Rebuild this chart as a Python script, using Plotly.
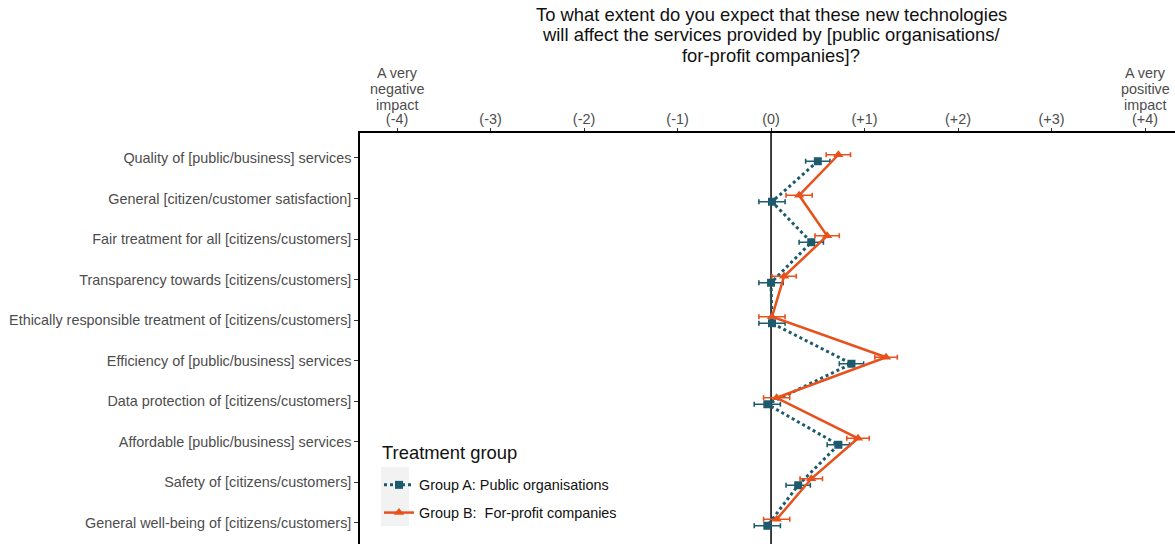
import plotly.graph_objects as go

categories = [
    "Quality of [public/business] services",
    "General [citizen/customer satisfaction]",
    "Fair treatment for all [citizens/customers]",
    "Transparency towards [citizens/customers]",
    "Ethically responsible treatment of [citizens/customers]",
    "Efficiency of [public/business] services",
    "Data protection of [citizens/customers]",
    "Affordable [public/business] services",
    "Safety of [citizens/customers]",
    "General well-being of [citizens/customers]",
]
group_a = [0.50, 0.01, 0.43, 0.00, 0.01, 0.86, -0.04, 0.72, 0.29, -0.04]
group_a_err = [0.13, 0.14, 0.13, 0.13, 0.14, 0.13, 0.14, 0.12, 0.13, 0.14]
group_b = [0.72, 0.30, 0.60, 0.14, 0.01, 1.23, 0.06, 0.93, 0.43, 0.06]
group_b_err = [0.13, 0.14, 0.13, 0.13, 0.14, 0.12, 0.14, 0.12, 0.12, 0.14]

tick_vals = [-4, -3, -2, -1, 0, 1, 2, 3, 4]
tick_text = ["(-4)", "(-3)", "(-2)", "(-1)", "(0)", "(+1)", "(+2)", "(+3)", "(+4)"]
end_labels_neg = ["A very", "negative", "impact"]
end_labels_pos = ["A very", "positive", "impact"]

title_lines = [
    "To what extent do you expect that these new technologies",
    "will affect the services provided by [public organisations/",
    "for-profit companies]?",
]
legend_title = "Treatment group"

TEAL = "#1e5a6d"
ORANGE = "#e8501c"
FONT = "Liberation Sans, Arial, sans-serif"
GREY = "#4d4d4d"

pos = list(range(1, len(categories) + 1))
dodge = 0.08

fig = go.Figure()
fig.add_trace(go.Scatter(
    x=group_a, y=[p + dodge for p in pos], mode="lines+markers",
    name="Group A: Public organisations",
    line=dict(color=TEAL, width=3, dash="dot"),
    marker=dict(symbol="square", size=8, color=TEAL),
    error_x=dict(type="data", array=group_a_err, color=TEAL, thickness=1.6, width=2.5),
    legendgroup="a",
))
fig.add_trace(go.Scatter(
    x=group_b, y=[p - dodge for p in pos], mode="lines+markers",
    name="Group B:  For-profit companies",
    line=dict(color=ORANGE, width=2.5),
    marker=dict(symbol="triangle-up", size=9, color=ORANGE),
    error_x=dict(type="data", array=group_b_err, color=ORANGE, thickness=1.6, width=2.5),
    legendgroup="b",
))

# vertical reference line at 0
fig.add_shape(type="line", x0=0, x1=0, y0=0, y1=1, xref="x", yref="paper",
              line=dict(color="black", width=1.5), layer="below")

L, T, H, W = 360, 133, 411, 815
def px_x(p):
    return (p - L) / W
def px_y(p):
    return (T + H - p) / H

# legend key background
fig.add_shape(type="rect", xref="paper", yref="paper",
              x0=px_x(381), x1=px_x(409), y0=px_y(526), y1=px_y(467),
              fillcolor="#f2f2f2", line=dict(width=0), layer="below")

# title
for i, t in enumerate(title_lines):
    fig.add_annotation(text=t, xref="x", yref="paper", x=0, y=1,
                       yshift=(133 - (14 + 20.5 * i)), showarrow=False,
                       font=dict(family=FONT, size=18.4, color="#111111"),
                       xanchor="center", yanchor="middle")

# end-of-scale descriptions above the (-4) and (+4) ticks
for xv, lines in ((-4, end_labels_neg), (4, end_labels_pos)):
    for i, t in enumerate(lines):
        fig.add_annotation(text=t, xref="x", yref="paper", x=xv, y=1,
                           yshift=(133 - (73 + 16 * i)), showarrow=False,
                           font=dict(family=FONT, size=14.4, color=GREY),
                           xanchor="center", yanchor="middle")

# legend title
fig.add_annotation(text=legend_title, xref="paper", yref="paper",
                   x=px_x(380), y=px_y(452), showarrow=False,
                   font=dict(family=FONT, size=18.4, color="#111111"),
                   xanchor="left", yanchor="middle")

fig.update_layout(
    width=1175, height=544,
    margin=dict(l=360, r=0, t=133, b=0),
    plot_bgcolor="white", paper_bgcolor="white",
    font=dict(family=FONT, size=14.4, color=GREY),
    showlegend=True,
    legend=dict(
        x=px_x(379), y=px_y(469), xanchor="left", yanchor="top",
        bgcolor="rgba(0,0,0,0)", font=dict(size=14.4, color="#111111"),
        tracegroupgap=6,
    ),
    xaxis=dict(
        side="top", range=[-4.396, 4.32], tickvals=tick_vals, ticktext=tick_text,
        showgrid=False, zeroline=False, showline=True, linecolor="black", linewidth=1.5,
        ticks="outside", ticklen=3, tickcolor="#333333",
        tickfont=dict(size=14.4, color=GREY), ticklabelstandoff=-2,
    ),
    yaxis=dict(
        range=[10.53, 0.383], tickvals=pos, ticktext=categories,
        showgrid=False, zeroline=False, showline=True, linecolor="black", linewidth=1.5,
        ticks="outside", ticklen=4, tickcolor="#333333",
        tickfont=dict(size=14.4, color=GREY),
    ),
)

fig.write_html("out.html")
